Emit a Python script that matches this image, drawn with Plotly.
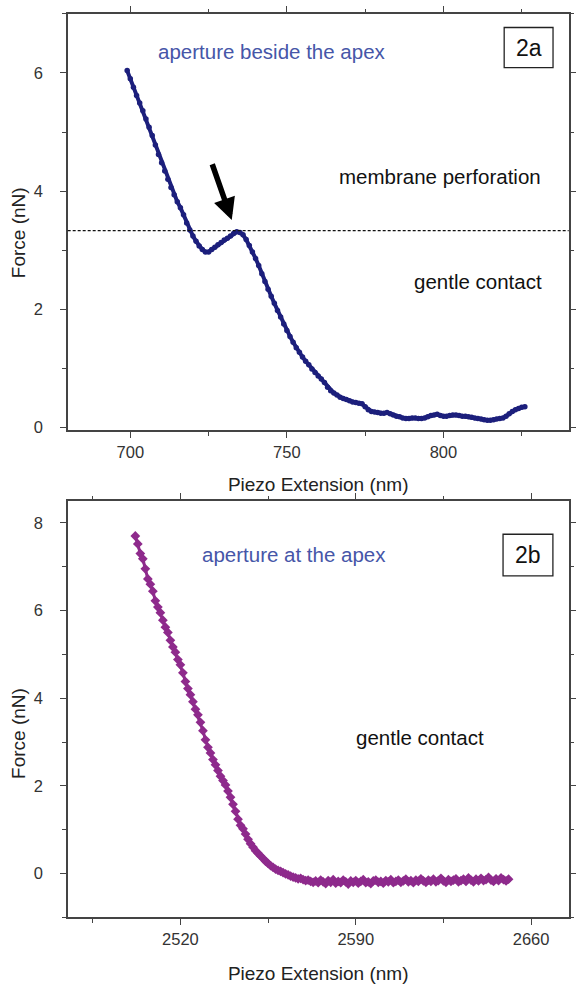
import plotly.graph_objects as go

# Panel 2a: aperture beside the apex
ext_a = [699, 700, 701, 702, 703, 704, 705, 706, 707, 708, 709, 710, 711, 712, 713,
         714, 715, 716, 717, 718, 719, 720, 721, 722, 723, 724, 725, 726, 727, 728,
         729, 730, 731, 732, 733, 734, 735, 736, 737, 738, 739, 740, 741, 742, 743,
         744, 745, 746, 747, 748, 749, 750, 751, 752, 753, 754, 755, 756, 757, 758,
         759, 760, 761, 762, 763, 764, 765, 766, 767, 768, 769, 770, 771, 772, 773,
         774, 775, 776, 777, 778, 779, 780, 781, 782, 783, 784, 785, 786, 787, 788,
         789, 790, 791, 792, 793, 794, 795, 796, 797, 798, 799, 800, 801, 802, 803,
         804, 805, 806, 807, 808, 809, 810, 811, 812, 813, 814, 815, 816, 817, 818,
         819, 820, 821, 822, 823, 824, 825, 826]
force_a = [6.04, 5.90, 5.76, 5.62, 5.49, 5.36, 5.22, 5.08, 4.94, 4.78, 4.62, 4.48, 4.34, 4.20, 4.06,
           3.94, 3.82, 3.72, 3.60, 3.46, 3.34, 3.24, 3.15, 3.07, 3.01, 2.97, 2.97, 3.01, 3.05, 3.09,
           3.13, 3.17, 3.20, 3.24, 3.28, 3.31, 3.30, 3.26, 3.18, 3.08, 2.97, 2.86, 2.74, 2.60, 2.47,
           2.34, 2.22, 2.10, 1.98, 1.87, 1.75, 1.64, 1.54, 1.44, 1.35, 1.27, 1.19, 1.12, 1.06, 0.99,
           0.93, 0.87, 0.82, 0.76, 0.68, 0.62, 0.58, 0.55, 0.51, 0.49, 0.47, 0.45, 0.43, 0.42, 0.41,
           0.40, 0.35, 0.30, 0.27, 0.26, 0.25, 0.24, 0.24, 0.25, 0.23, 0.21, 0.19, 0.18, 0.16, 0.15,
           0.15, 0.16, 0.16, 0.15, 0.15, 0.16, 0.18, 0.20, 0.21, 0.22, 0.20, 0.19, 0.19, 0.20, 0.21,
           0.21, 0.20, 0.19, 0.19, 0.18, 0.17, 0.16, 0.15, 0.14, 0.13, 0.12, 0.12, 0.13, 0.14, 0.15,
           0.16, 0.19, 0.23, 0.27, 0.30, 0.32, 0.34, 0.35]

# Panel 2b: aperture at the apex
ext_b = [2502, 2503, 2504, 2505, 2506, 2507, 2508, 2509, 2510, 2511, 2512, 2513, 2514, 2515,
         2516, 2517, 2518, 2519, 2520, 2521, 2522, 2523, 2524, 2525, 2526, 2527, 2528, 2529,
         2530, 2531, 2532, 2533, 2534, 2535, 2536, 2537, 2538, 2539, 2540, 2541, 2542, 2543,
         2544, 2545, 2546, 2547, 2548, 2549, 2550, 2551, 2552, 2553, 2554, 2555, 2556, 2557,
         2558, 2559, 2560, 2561, 2562, 2563, 2564, 2565, 2566, 2567, 2568, 2569, 2570, 2571,
         2572, 2573, 2574, 2575, 2576, 2577, 2578, 2579, 2580, 2581, 2582, 2583, 2584, 2585,
         2586, 2587, 2588, 2589, 2590, 2591, 2592, 2593, 2594, 2595, 2596, 2597, 2598, 2599,
         2600, 2601, 2602, 2603, 2604, 2605, 2606, 2607, 2608, 2609, 2610, 2611, 2612, 2613,
         2614, 2615, 2616, 2617, 2618, 2619, 2620, 2621, 2622, 2623, 2624, 2625, 2626, 2627,
         2628, 2629, 2630, 2631, 2632, 2633, 2634, 2635, 2636, 2637, 2638, 2639, 2640, 2641,
         2642, 2643, 2644, 2645, 2646, 2647, 2648, 2649, 2650, 2651]
force_b = [7.70, 7.52, 7.30, 7.18, 6.95, 6.72, 6.60, 6.44, 6.22, 6.08, 5.95, 5.78, 5.62, 5.50,
           5.32, 5.17, 5.05, 4.88, 4.76, 4.58, 4.38, 4.22, 4.08, 3.92, 3.75, 3.62, 3.45, 3.26,
           3.05, 2.88, 2.75, 2.60, 2.48, 2.35, 2.22, 2.12, 2.02, 1.88, 1.74, 1.58, 1.42, 1.24,
           1.10, 1.02, 0.90, 0.78, 0.68, 0.60, 0.52, 0.46, 0.40, 0.34, 0.28, 0.23, 0.18, 0.14,
           0.10, 0.07, 0.05, 0.02, -0.01, -0.03, -0.06, -0.08, -0.10, -0.12, -0.11, -0.14, -0.16, -0.15,
           -0.18, -0.20, -0.17, -0.21, -0.15, -0.19, -0.23, -0.16, -0.20, -0.14, -0.22, -0.18, -0.21, -0.15,
           -0.19, -0.24, -0.17, -0.20, -0.16, -0.22, -0.18, -0.14, -0.21, -0.19, -0.23, -0.17, -0.15, -0.20,
           -0.18, -0.22, -0.16, -0.19, -0.14, -0.21, -0.18, -0.15, -0.20, -0.17, -0.13, -0.19, -0.16, -0.21,
           -0.15, -0.18, -0.12, -0.17, -0.20, -0.15, -0.18, -0.13, -0.19, -0.16, -0.11, -0.17, -0.20, -0.14,
           -0.18, -0.15, -0.12, -0.19, -0.16, -0.13, -0.18, -0.10, -0.15, -0.19, -0.13, -0.17, -0.11, -0.16,
           -0.14, -0.09, -0.15, -0.18, -0.12, -0.16, -0.10, -0.14, -0.17, -0.13]

perforation_threshold = 3.33

FONT = "Liberation Sans, Arial, sans-serif"
NAVY = "#1c1f7c"
PURPLE = "#8e2a8c"
LABEL_BLUE = "#4656a8"
AXIS = "#444444"
GAP = "\u00a0\u00a0\u00a0"  # space between y tick labels and their ticks

fig = go.Figure()
fig.add_trace(go.Scatter(
    x=ext_a, y=force_a, mode="lines+markers", xaxis="x", yaxis="y",
    line=dict(color=NAVY, width=4), marker=dict(color=NAVY, size=5.5),
    showlegend=False, hoverinfo="skip"))
fig.add_trace(go.Scatter(
    x=ext_b, y=force_b, mode="lines+markers", xaxis="x2", yaxis="y2",
    line=dict(color=PURPLE, width=3), marker=dict(color=PURPLE, size=7.5, symbol="diamond"),
    showlegend=False, hoverinfo="skip"))


def axis_style(**kw):
    base = dict(
        showline=True, linecolor=AXIS, linewidth=1.5, mirror="ticks",
        ticks="outside", ticklen=6, tickwidth=1.3, tickcolor=AXIS,
        showgrid=False, zeroline=False,
        tickfont=dict(family=FONT, size=16.5, color="#333333"),
        title_font=dict(family=FONT, size=19, color="#222222"),
        minor=dict(ticks="outside", ticklen=3.5, tickwidth=1.2, tickcolor=AXIS, showgrid=False),
    )
    base.update(kw)
    return base


fig.update_layout(
    width=576, height=984,
    margin=dict(l=0, r=0, t=0, b=0),
    paper_bgcolor="white", plot_bgcolor="white",
    xaxis=axis_style(domain=[0.1175, 0.9873], range=[680, 840], anchor="y",
                     tick0=700, dtick=50, minor_dtick=25, minor_tick0=700,
                     title=dict(text="Piezo Extension (nm)", standoff=18)),
    yaxis=axis_style(domain=[0.5600, 0.9858], range=[-0.05, 7.0], anchor="x",
                     tick0=0, dtick=2, minor_dtick=1, minor_tick0=0,
                     ticksuffix=GAP),
    xaxis2=axis_style(domain=[0.1175, 0.9873], range=[2475, 2675], anchor="y2",
                      tick0=2520, dtick=70, minor_dtick=35, minor_tick0=2520,
                      title=dict(text="Piezo Extension (nm)", standoff=22)),
    yaxis2=axis_style(domain=[0.0620, 0.4878], range=[-1, 8.5], anchor="x2",
                      tick0=0, dtick=2, minor_dtick=1, minor_tick0=0,
                      ticksuffix=GAP),
)

# y-axis titles
for yc in (0.762, 0.250):
    fig.add_annotation(text="Force (nN)", xref="paper", yref="paper", x=0.032, y=yc,
                       xanchor="center", yanchor="middle",
                       textangle=-90, showarrow=False,
                       font=dict(family=FONT, size=19, color="#222222"))

# threshold between gentle contact and perforation
fig.add_shape(type="line", xref="x domain", x0=0, x1=1, yref="y",
              y0=perforation_threshold, y1=perforation_threshold,
              line=dict(color="#111111", width=1.2, dash="3px,2px"))

# panel tags
fig.add_shape(type="rect", xref="x", yref="y", x0=819.4, x1=835.0, y0=6.09, y1=6.77,
              line=dict(color="#222222", width=1.3), fillcolor="white")
fig.add_shape(type="rect", xref="x2", yref="y2", x0=2648.8, x1=2668.7, y0=6.79, y1=7.74,
              line=dict(color="#222222", width=1.3), fillcolor="white")

ann = [
    dict(x=745.3, y=6.36, xref="x", yref="y", text="aperture beside the apex",
         font=dict(family=FONT, size=20.5, color=LABEL_BLUE)),
    dict(x=798.9, y=4.24, xref="x", yref="y", text="membrane perforation",
         font=dict(family=FONT, size=20.5, color="#111111")),
    dict(x=811.0, y=2.47, xref="x", yref="y", text="gentle contact",
         font=dict(family=FONT, size=20.5, color="#111111")),
    dict(x=827.2, y=6.43, xref="x", yref="y", text="2a",
         font=dict(family=FONT, size=23, color="#111111")),
    dict(x=2565.5, y=7.28, xref="x2", yref="y2", text="aperture at the apex",
         font=dict(family=FONT, size=20.5, color=LABEL_BLUE)),
    dict(x=2615.6, y=3.10, xref="x2", yref="y2", text="gentle contact",
         font=dict(family=FONT, size=20.5, color="#111111")),
    dict(x=2658.8, y=7.27, xref="x2", yref="y2", text="2b",
         font=dict(family=FONT, size=23, color="#111111")),
]
for a in ann:
    fig.add_annotation(showarrow=False, **a)

# arrow pointing at the force peak
fig.add_annotation(x=732.4, y=3.51, xref="x", yref="y",
                   ax=726.0, ay=4.48, axref="x", ayref="y",
                   showarrow=True, arrowhead=2, arrowsize=0.8, arrowwidth=5.5,
                   arrowcolor="black", text="")

fig.write_html("out.html")
